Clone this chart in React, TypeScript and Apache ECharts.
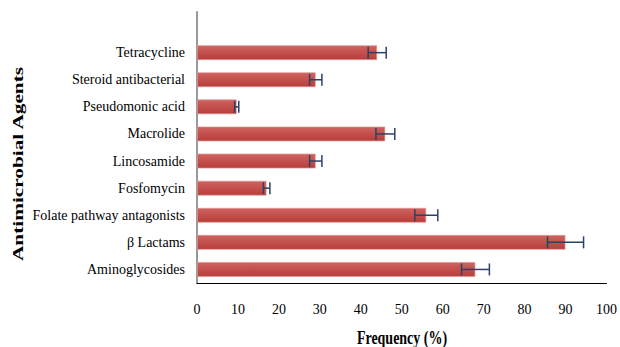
import React, { useEffect, useRef } from "react";
import * as echarts from "echarts";

const categories = [
  "Aminoglycosides",
  "β Lactams",
  "Folate pathway antagonists",
  "Fosfomycin",
  "Lincosamide",
  "Macrolide",
  "Pseudomonic acid",
  "Steroid antibacterial",
  "Tetracycline",
];
const frequency = [68, 90, 56, 17, 29, 46, 9.7, 29, 44];
const errors = [3.4, 4.4, 2.8, 0.8, 1.5, 2.3, 0.5, 1.5, 2.2];
const xTicks = { min: 0, max: 100, interval: 10 };
const xAxisTitle = "Frequency (%)";
const yAxisTitle = "Antimicrobial Agents";

const FONT = "'Liberation Serif', 'Times New Roman', serif";

export default function App() {
  const ref = useRef<HTMLDivElement>(null);
  useEffect(() => {
    document.body.style.margin = "0";
    if (!ref.current) return;
    const chart = echarts.init(ref.current, null, { renderer: "svg" });
    const yCats = [...categories, ""];
    const errData = frequency.map((v, i) => [v - errors[i], v + errors[i], i]);
    const errColor = "#2b4266";
    chart.setOption({
      animation: false,
      backgroundColor: "#ffffff",
      grid: { left: 197, right: 13, top: 12, bottom: 64, containLabel: false },
      graphic: [
        {
          type: "text",
          x: 18,
          y: 164,
          rotation: Math.PI / 2,
          scaleX: 1.42,
          style: {
            text: yAxisTitle,
            font: `bold 15px ${FONT}`,
            fill: "#000",
            textAlign: "center",
            textVerticalAlign: "middle",
          },
        },
        {
          type: "text",
          x: 402,
          y: 338,
          scaleY: 1.3,
          style: {
            text: xAxisTitle,
            font: `bold 14px ${FONT}`,
            fill: "#000",
            textAlign: "center",
            textVerticalAlign: "middle",
          },
        },
      ],
      xAxis: {
        type: "value",
        min: xTicks.min,
        max: xTicks.max,
        interval: xTicks.interval,
        axisLine: { show: true, lineStyle: { color: "#000", width: 1.2 } },
        axisTick: { show: false },
        splitLine: { show: false },
        axisLabel: { fontFamily: FONT, fontSize: 14, color: "#000", margin: 19 },
      },
      yAxis: {
        type: "category",
        data: yCats,
        axisLine: { show: true, lineStyle: { color: "#9a9a9a", width: 2 } },
        axisTick: { show: false },
        splitLine: { show: false },
        axisLabel: { fontFamily: FONT, fontSize: 14, color: "#000", margin: 12 },
      },
      series: [
        {
          type: "bar",
          data: frequency,
          barWidth: 15,
          itemStyle: {
            color: new echarts.graphic.LinearGradient(0, 0, 0, 1, [
              { offset: 0, color: "#cf6360" },
              { offset: 1, color: "#b83d3a" },
            ]),
            borderColor: "rgba(225,150,150,0.7)",
            borderWidth: 1,
          },
          z: 2,
        },
        {
          type: "custom",
          data: errData,
          encode: { x: [0, 1], y: 2 },
          z: 5,
          renderItem: (params: any, api: any) => {
            const lo = api.coord([api.value(0), api.value(2)]);
            const hi = api.coord([api.value(1), api.value(2)]);
            const h = 6;
            const style = { stroke: errColor, lineWidth: 1.5 };
            return {
              type: "group",
              children: [
                { type: "line", shape: { x1: lo[0], y1: lo[1], x2: hi[0], y2: hi[1] }, style },
                { type: "line", shape: { x1: lo[0], y1: lo[1] - h, x2: lo[0], y2: lo[1] + h }, style },
                { type: "line", shape: { x1: hi[0], y1: hi[1] - h, x2: hi[0], y2: hi[1] + h }, style },
              ],
            };
          },
        },
      ],
    });
    return () => chart.dispose();
  }, []);
  return <div ref={ref} style={{ width: 620, height: 347 }} />;
}
